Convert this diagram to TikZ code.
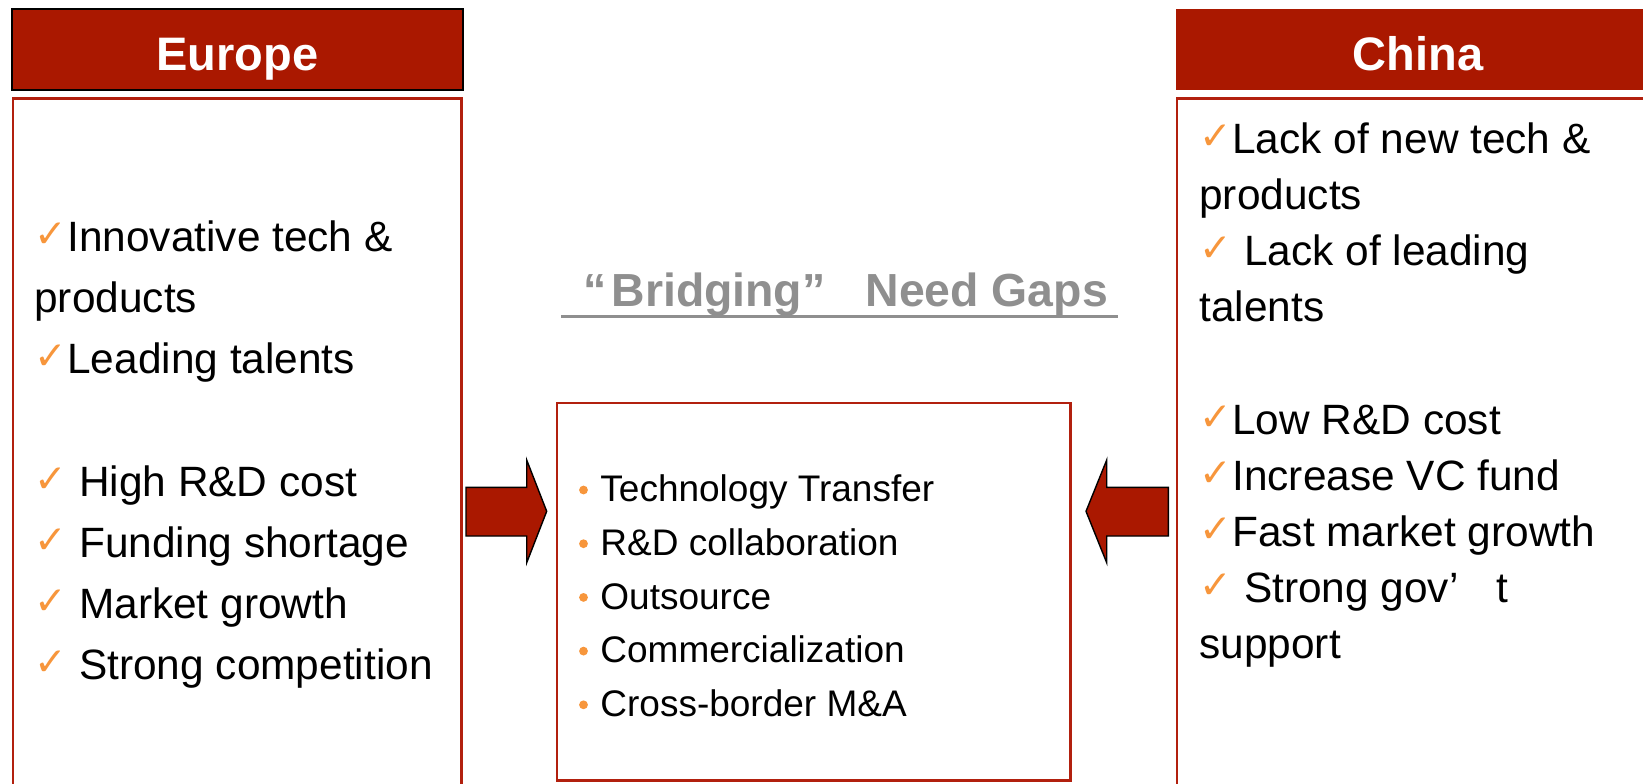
\documentclass[tikz,border=0pt]{standalone}
\usepackage{fontspec}
\setmainfont{Liberation Sans}
\newfontfamily\symfont{DejaVu Sans}
\usepackage{xcolor}
\usepackage{tikz}

\definecolor{darkred}{HTML}{AA1800}
\definecolor{boxred}{HTML}{B2200E}
\definecolor{tick}{HTML}{F7963C}
\definecolor{titlegray}{HTML}{8F8F8F}

% orange tick in front of a line
\newcommand{\checkmk}{\makebox[16.5pt][l]{\raisebox{2pt}{\symfont\fontsize{19.5}{19.5}\selectfont\color{tick}✓}}}

\begin{document}
\begin{tikzpicture}[
    x=0.5pt, y=-0.5pt,
    head/.style={fill=darkred, text=white, inner sep=0pt, minimum height=40.5pt,
      text height=20.5pt, text depth=0pt, font=\bfseries\fontsize{23.5}{23.5}\selectfont},
    item/.style={anchor=base west, inner sep=0pt, font=\fontsize{21.2}{21.2}\selectfont}
  ]
  \tikzset{
    panel/.style={draw=boxred, line width=1.4pt, inner sep=0pt},
    blockarrow/.style={fill=darkred, draw=black, line width=0.7pt, line join=miter},
    point/.style={anchor=base west, inner sep=0pt, font=\fontsize{18.5}{18.5}\selectfont}
  }
  \useasboundingbox (0,0) rectangle (1643,783);
  \clip (0,0) rectangle (1643,783);

  % headers
  \node[head, draw=black, line width=1pt, minimum width=225.2pt] (europe) at (237.5,49.5) {Europe};
  \node[head, minimum width=241.6pt] (china) at (1418,49.5) {China};

  % panels
  \node[panel, minimum width=224.25pt, minimum height=360.75pt] (euBox) at (237.25,459.25) {};
  \node[panel, minimum width=261.5pt, minimum height=360.75pt] (chBox) at (1438.5,459.25) {};
  \node[panel, minimum width=256.85pt, minimum height=188.75pt] (mid) at (813.85,591.75) {};

  % block arrows into the middle box
  \draw[blockarrow] (466,487.3) -- (526.7,487.3) -- (526.7,460) -- (546.7,511.3)
    -- (526.7,562.7) -- (526.7,536) -- (466,536) -- cycle;
  \draw[blockarrow] (1168.3,487.3) -- (1106.7,487.3) -- (1106.7,460) -- (1086,511.3)
    -- (1106.7,562.7) -- (1106.7,536) -- (1168.3,536) -- cycle;

  % title
  \node[anchor=base west, inner sep=0pt, text=titlegray, font=\bfseries\fontsize{23.2}{23.2}\selectfont]
    (bridge) at (583,306.7) {“\hspace{2.5pt}Bridging”\hspace{20pt}Need Gaps};
  \coordinate (ulA) at (561,316.7);
  \coordinate (ulB) at (1118,316.7);
  \draw[titlegray, line width=1.35pt] (ulA) -- (ulB);

  % europe side
  \foreach \y/\t in {0/{\checkmk Innovative tech \&}, 1/products, 2/{\checkmk Leading talents},
      4/{\checkmk\ High R\&D cost}, 5/{\checkmk\ Funding shortage},
      6/{\checkmk\ Market growth}, 7/{\checkmk\ Strong competition}}
    \node[item] (eu\y) at (34,{251.5+61.2*\y}) {\t};

  % china side
  \foreach \y/\t in {0/{\checkmk Lack of new tech \&}, 1/products, 2/{\checkmk\ Lack of leading},
      3/talents, 5/{\checkmk Low R\&D cost}, 6/{\checkmk Increase VC fund},
      7/{\checkmk Fast market growth}, 8/{\checkmk\ Strong gov’\hspace{18.8pt}t}, 9/support}
    \node[item] (ch\y) at (1199,{153.1+56.2*\y}) {\t};

  % ways of bridging
  \foreach \t [count=\i from 0] in {Technology Transfer, R\&D collaboration, Outsource,
      Commercialization, Cross-border M\&A} {
    \fill[tick] (583.5,{490+53.7*\i}) circle (2.2pt);
    \node[point] (way\i) at (600,{501.8+53.7*\i}) {\t};
  }
\end{tikzpicture}
\end{document}
